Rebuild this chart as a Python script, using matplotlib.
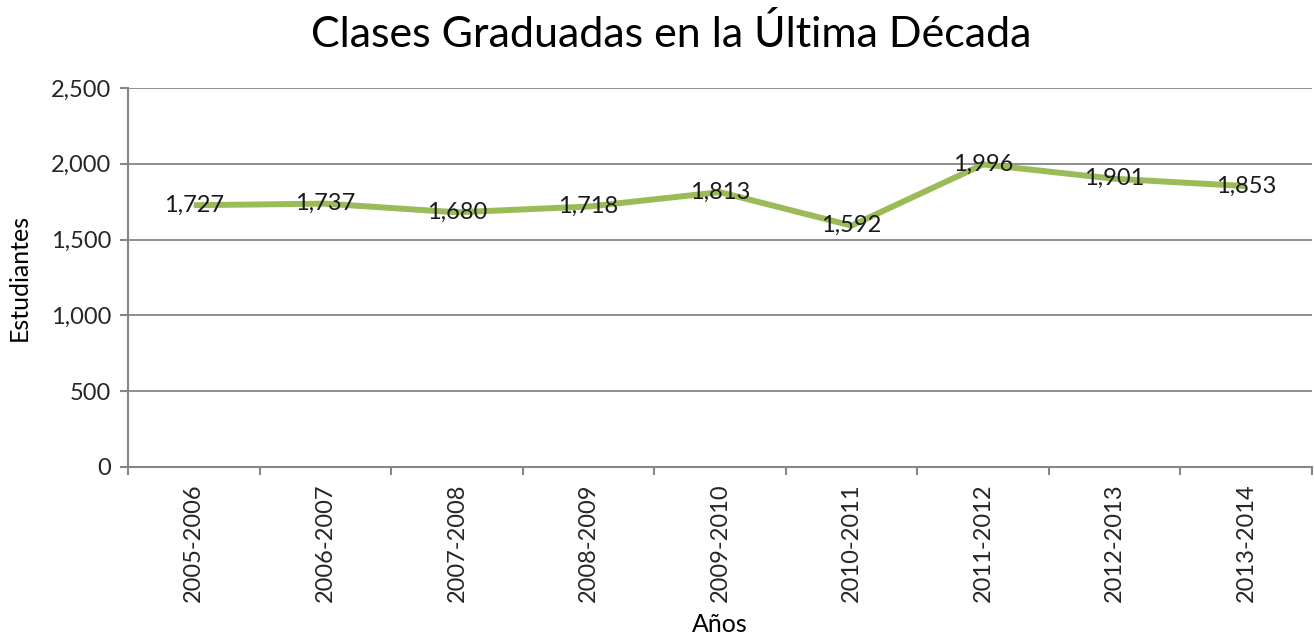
import matplotlib.pyplot as plt
from matplotlib.ticker import FuncFormatter

# datos
years = ["2005-2006", "2006-2007", "2007-2008", "2008-2009", "2009-2010",
         "2010-2011", "2011-2012", "2012-2013", "2013-2014"]
students = [1727, 1737, 1680, 1718, 1813, 1592, 1996, 1901, 1853]

plt.rcParams["font.family"] = ["Lato", "DejaVu Sans"]

fig = plt.figure(figsize=(13.14, 6.41), dpi=100)
ax = fig.add_axes([0.0974, 0.2715, 0.9011, 0.5912])

x = list(range(len(years)))
ax.plot(x, students, color="#9BBB59", linewidth=4.3, solid_capstyle="butt", zorder=3)

for xi, v in zip(x, students):
    ax.text(xi, v, f"{v:,}", ha="center", va="center", fontsize=17, color="#1a1a1a", zorder=4)

ax.set_xlim(-0.5, len(years) - 0.5)
ax.set_ylim(0, 2500)
ax.set_yticks(range(0, 2501, 500))
ax.yaxis.set_major_formatter(FuncFormatter(lambda v, p: f"{int(v):,}"))

# ticks between categories, labels centered
ax.set_xticks([i - 0.5 for i in range(len(years) + 1)])
ax.set_xticklabels([])
ax.set_xticks(x, minor=True)
ax.set_xticklabels(years, minor=True, rotation=90, fontsize=17, color="#262626")
ax.tick_params(axis="x", which="minor", length=0, pad=12)
ax.tick_params(axis="x", which="major", length=6, width=1.5, color="#868686", direction="out")
ax.tick_params(axis="y", length=6, width=1.5, color="#868686", direction="out",
               labelsize=17, labelcolor="#262626", pad=6)

ax.grid(axis="y", color="#868686", linewidth=1.3, zorder=0)
for s in ["top", "right"]:
    ax.spines[s].set_visible(False)
for s in ["left", "bottom"]:
    ax.spines[s].set_color("#868686")
    ax.spines[s].set_linewidth(1.5)

ax.set_ylabel("Estudiantes", fontsize=18)
ax.yaxis.set_label_coords(-0.082, 0.5)
ax.set_xlabel("Años", fontsize=18, labelpad=8)
fig.suptitle("Clases Graduadas en la Última Década", fontsize=31, y=0.978, x=0.511)

fig.savefig("out.png", dpi=100)
